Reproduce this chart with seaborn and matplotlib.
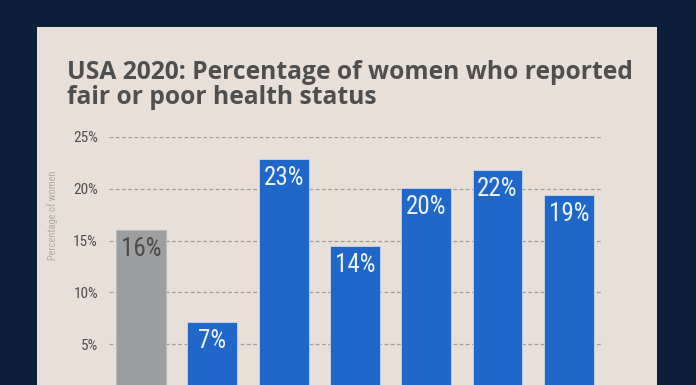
import matplotlib
matplotlib.use("Agg")
import matplotlib.pyplot as plt
from matplotlib import font_manager
from matplotlib.patches import Rectangle
import seaborn as sns

categories = ["All women", "Asian", "Black", "White", "Hispanic", "American Indian", "Multiracial"]
values = [16.0, 7.1, 22.9, 14.5, 20.1, 21.8, 19.4]
labels = ["16%", "7%", "23%", "14%", "20%", "22%", "19%"]
yticks = [5, 10, 15, 20, 25]
ytick_labels = ["5%", "10%", "15%", "20%", "25%"]

avail = {f.name for f in font_manager.fontManager.ttflist}

def pick(names):
    for n in names:
        if n in avail:
            return n
    return "DejaVu Sans"

cond = pick(["Liberation Sans Narrow", "Roboto Condensed", "DejaVu Sans"])
title_font = pick(["Open Sans", "Lato", "DejaVu Sans"])

sns.set_theme(style="white")
plt.rcParams["font.family"] = [cond, "DejaVu Sans"]

NAVY = "#0c2039"
PAPER = "#e7dfd8"
GRAY = "#9d9e9f"
BLUE = "#1f67c9"
TEXT = "#4f4f4f"

fig = plt.figure(figsize=(6.96, 3.85), dpi=100, facecolor=NAVY)
fig.patches.append(Rectangle((37/696, 0), (657-37)/696, (385-27)/385,
                             transform=fig.transFigure, facecolor=PAPER,
                             edgecolor="none", zorder=-5))

ax = fig.add_axes([109/696, (385-395.75)/385, (603-109)/696, (395.75-137)/385])
ax.set_facecolor("none")
ax.set_zorder(2)

colors = [GRAY] + [BLUE] * (len(categories) - 1)
sns.barplot(x=categories, y=values, hue=categories, palette=colors, legend=False,
            width=0.7, ax=ax, saturation=1, zorder=3, edgecolor="#c9d6ea", linewidth=0.6)
ax.patches[0].set_edgecolor("#b8b8b8")

ax.set_ylim(0, 25)
ax.set_xlim(-0.45, 6.48)
ax.set_yticks(yticks)
ax.set_yticklabels(ytick_labels, fontsize=11, color=TEXT)
ax.tick_params(axis="y", length=0, pad=8)
ax.set_xticks([])
ax.set_xlabel("")
ax.set_ylabel("")
for y in yticks:
    ax.axhline(y, color="#a39b94", lw=0.9, ls=(0, (3, 2)), zorder=1)
for s in ax.spines.values():
    s.set_visible(False)

for i, (v, lab) in enumerate(zip(values, labels)):
    ax.annotate(lab, (i, v), xytext=(0, -5), textcoords="offset points",
                ha="center", va="top", fontsize=18,
                color="#4a4a4a" if i == 0 else "#eef2f8", zorder=4)

fig.text(53/696, 1 - 215/385, "Percentage of women", rotation=90, ha="center",
         va="center", fontsize=7.5, color="#b0aaa4")

fig.text(67/696, 1 - 104/385, "USA 2020: Percentage of women who reported\nfair or poor health status",
         ha="left", va="baseline", fontsize=17.7, fontweight="bold", color=TEXT,
         family=title_font, linespacing=1.0)

fig.savefig("out.png", dpi=100, facecolor=NAVY)
